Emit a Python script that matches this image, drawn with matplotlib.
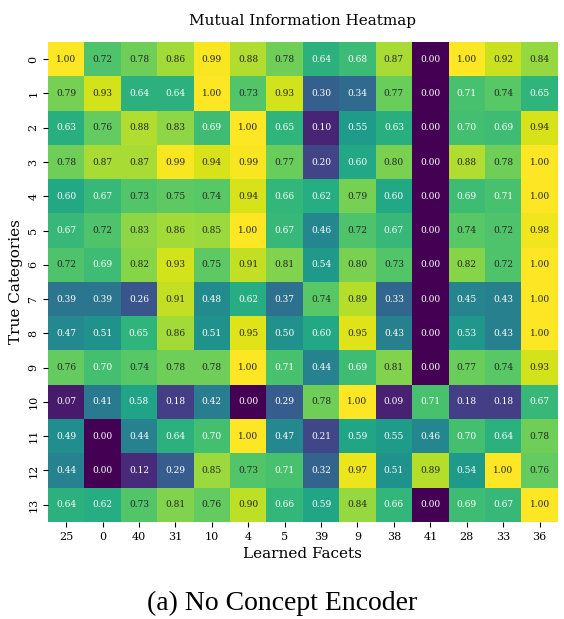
import numpy as np
import pandas as pd
import matplotlib
matplotlib.use("Agg")
import matplotlib.pyplot as plt
import seaborn as sns

# column order of learned facets, rows are true categories
facets = ["25", "0", "40", "31", "10", "4", "5", "39", "9", "38", "41", "28", "33", "36"]
categories = [str(i) for i in range(14)]

row_0 = [1.00, 0.72, 0.78, 0.86, 0.99, 0.88, 0.78, 0.64, 0.68, 0.87, 0.00, 1.00, 0.92, 0.84]
row_1 = [0.79, 0.93, 0.64, 0.64, 1.00, 0.73, 0.93, 0.30, 0.34, 0.77, 0.00, 0.71, 0.74, 0.65]
row_2 = [0.63, 0.76, 0.88, 0.83, 0.69, 1.00, 0.65, 0.10, 0.55, 0.63, 0.00, 0.70, 0.69, 0.94]
row_3 = [0.78, 0.87, 0.87, 0.99, 0.94, 0.99, 0.77, 0.20, 0.60, 0.80, 0.00, 0.88, 0.78, 1.00]
row_4 = [0.60, 0.67, 0.73, 0.75, 0.74, 0.94, 0.66, 0.62, 0.79, 0.60, 0.00, 0.69, 0.71, 1.00]
row_5 = [0.67, 0.72, 0.83, 0.86, 0.85, 1.00, 0.67, 0.46, 0.72, 0.67, 0.00, 0.74, 0.72, 0.98]
row_6 = [0.72, 0.69, 0.82, 0.93, 0.75, 0.91, 0.81, 0.54, 0.80, 0.73, 0.00, 0.82, 0.72, 1.00]
row_7 = [0.39, 0.39, 0.26, 0.91, 0.48, 0.62, 0.37, 0.74, 0.89, 0.33, 0.00, 0.45, 0.43, 1.00]
row_8 = [0.47, 0.51, 0.65, 0.86, 0.51, 0.95, 0.50, 0.60, 0.95, 0.43, 0.00, 0.53, 0.43, 1.00]
row_9 = [0.76, 0.70, 0.74, 0.78, 0.78, 1.00, 0.71, 0.44, 0.69, 0.81, 0.00, 0.77, 0.74, 0.93]
row_10 = [0.07, 0.41, 0.58, 0.18, 0.42, 0.00, 0.29, 0.78, 1.00, 0.09, 0.71, 0.18, 0.18, 0.67]
row_11 = [0.49, 0.00, 0.44, 0.64, 0.70, 1.00, 0.47, 0.21, 0.59, 0.55, 0.46, 0.70, 0.64, 0.78]
row_12 = [0.44, 0.00, 0.12, 0.29, 0.85, 0.73, 0.71, 0.32, 0.97, 0.51, 0.89, 0.54, 1.00, 0.76]
row_13 = [0.64, 0.62, 0.73, 0.81, 0.76, 0.90, 0.66, 0.59, 0.84, 0.66, 0.00, 0.69, 0.67, 1.00]

rows = [row_0, row_1, row_2, row_3, row_4, row_5, row_6,
        row_7, row_8, row_9, row_10, row_11, row_12, row_13]
df = pd.DataFrame(rows, index=categories, columns=facets)

fig = plt.figure(figsize=(5.64, 6.19), dpi=100)
ax = fig.add_axes([0.085, 0.157, 0.904, 0.775])

sns.heatmap(df, ax=ax, cmap="viridis", annot=True, fmt=".2f", cbar=False,
            annot_kws={"size": 6.5, "family": "DejaVu Serif"})

ax.set_title("Mutual Information Heatmap", family="DejaVu Serif", fontsize=11, pad=12)
ax.set_xlabel("Learned Facets", family="DejaVu Serif", fontsize=11)
ax.set_ylabel("True Categories", family="DejaVu Serif", fontsize=11)
for lbl in ax.get_xticklabels():
    lbl.set_family("DejaVu Serif")
    lbl.set_fontsize(8)
    lbl.set_rotation(0)
for lbl in ax.get_yticklabels():
    lbl.set_family("DejaVu Serif")
    lbl.set_fontsize(8)
    lbl.set_rotation(90)
    lbl.set_va("center")

# subfigure caption
fig.text(0.5, 0.025, "(a) No Concept Encoder", ha="center", va="center",
         family="Liberation Serif", fontsize=20)

fig.savefig("out.png", dpi=100)
